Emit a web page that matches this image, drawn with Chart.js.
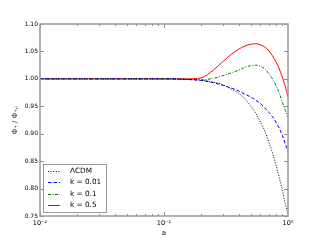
<!DOCTYPE html>
<html>
<head>
<meta charset="utf-8">
<script src="https://cdn.jsdelivr.net/npm/chart.js@4/dist/chart.umd.min.js"></script>
<style>
html,body{margin:0;padding:0;background:#fff;}
#c{display:block;}
</style>
</head>
<body>
<canvas id="c" width="320" height="240"></canvas>
<script>
// ---- data ----
const aValues = [0.01, 0.02, 0.05, 0.1, 0.15, 0.2, 0.25, 0.3, 0.35, 0.4, 0.45, 0.5, 0.55, 0.6, 0.65, 0.7, 0.75, 0.8, 0.85, 0.9, 0.95, 1.0];
const lcdm  = [1.000, 1.000, 1.000, 1.000, 0.999, 0.998, 0.994, 0.989, 0.981, 0.974, 0.963, 0.951, 0.937, 0.921, 0.905, 0.885, 0.865, 0.843, 0.820, 0.797, 0.773, 0.755];
const k001  = [1.000, 1.000, 1.000, 1.000, 0.999, 0.997, 0.993, 0.988, 0.983, 0.978, 0.972, 0.967, 0.961, 0.955, 0.947, 0.939, 0.931, 0.921, 0.910, 0.897, 0.882, 0.867];
const k01   = [1.000, 1.000, 1.000, 1.000, 0.999, 0.998, 1.001, 1.006, 1.011, 1.016, 1.021, 1.024, 1.025, 1.023, 1.018, 1.010, 1.000, 0.988, 0.974, 0.958, 0.943, 0.930];
const k05   = [1.000, 1.000, 1.000, 1.000, 1.000, 1.002, 1.016, 1.032, 1.045, 1.054, 1.060, 1.063, 1.064, 1.062, 1.058, 1.051, 1.042, 1.031, 1.018, 1.003, 0.986, 0.967];
const seriesLabels = ['\u039BCDM', 'k = 0.01', 'k = 0.1', 'k = 0.5'];
const yTicks = [0.75, 0.80, 0.85, 0.90, 0.95, 1.00, 1.05, 1.10];
const xMajorTicks = [0.01, 0.1, 1];
const xTickLabels = ['10\u207B\u00B2', '10\u207B\u00B9', '10\u2070'];
const xTitle = 'a';
const yTitle = '\u03A6\u208A / \u03A6\u208A,\u1D62';

Chart.defaults.font.family = 'DejaVu Sans';
Chart.defaults.color = '#000';

function pts(arr){ return aValues.map((a,i)=>({x:a, y:arr[i]})); }

const styles = [
  {color:'#000000', dash:[1,1.6]},
  {color:'#0000ff', dash:[3.5,2]},
  {color:'#008000', dash:[3,1.5,1,1.5]},
  {color:'#ff0000', dash:[]}
];
const allSeries = [lcdm, k001, k01, k05];

const datasets = allSeries.map((s,i)=>({
  label: seriesLabels[i],
  data: pts(s),
  borderColor: styles[i].color,
  borderDash: styles[i].dash,
  borderWidth: 1,
  pointRadius: 0,
  fill: false,
  cubicInterpolationMode: 'monotone'
}));

const frameAndTicks = {
  id: 'frameAndTicks',
  afterDraw(chart){
    const ctx = chart.ctx, ca = chart.chartArea;
    const xs = chart.scales.x, ys = chart.scales.y;
    ctx.save();
    ctx.strokeStyle = '#8c8c8c';
    ctx.lineWidth = 1;
    for (let d = -2; d < 0; d++) {
      for (let m = 1; m <= 9; m++) {
        const v = m * Math.pow(10, d);
        const px = Math.round(xs.getPixelForValue(v)) + 0.5;
        const len = m === 1 ? 4 : 2;
        ctx.beginPath();
        ctx.moveTo(px, ca.bottom); ctx.lineTo(px, ca.bottom - len);
        ctx.moveTo(px, ca.top); ctx.lineTo(px, ca.top + len);
        ctx.stroke();
      }
    }
    yTicks.forEach(v=>{
      const py = Math.round(ys.getPixelForValue(v)) + 0.5;
      ctx.beginPath();
      ctx.moveTo(ca.left, py); ctx.lineTo(ca.left + 4, py);
      ctx.moveTo(ca.right, py); ctx.lineTo(ca.right - 4, py);
      ctx.stroke();
    });
    ctx.strokeStyle = '#9a9a9a';
    ctx.lineWidth = 1.5;
    ctx.strokeRect(ca.left, ca.top, ca.right - ca.left, ca.bottom - ca.top);

    // y axis title
    ctx.save();
    ctx.translate(ca.left - 25, (ca.top + ca.bottom) / 2);
    ctx.rotate(-Math.PI / 2);
    ctx.font = '7px "DejaVu Sans"';
    ctx.fillStyle = '#000';
    ctx.textAlign = 'center';
    ctx.textBaseline = 'middle';
    ctx.fillText(yTitle, 0, 0);
    ctx.restore();

    // legend inside lower-left
    const bx = ca.left + 3, bw = 63, bh = 48, by = ca.bottom - 4 - bh;
    ctx.fillStyle = '#fff';
    ctx.fillRect(bx, by, bw, bh);
    ctx.strokeStyle = '#9a9a9a';
    ctx.lineWidth = 1;
    ctx.strokeRect(bx + 0.5, by + 0.5, bw, bh);
    ctx.font = '7.3px "DejaVu Sans"';
    ctx.textBaseline = 'middle';
    ctx.textAlign = 'left';
    chart.data.datasets.forEach((ds,i)=>{
      const yy = Math.round(by + 7 + i * 11.4) + 0.5;
      ctx.beginPath();
      ctx.strokeStyle = ds.borderColor;
      ctx.setLineDash(ds.borderDash);
      ctx.lineWidth = 1;
      ctx.moveTo(bx + 5, yy); ctx.lineTo(bx + 17, yy);
      ctx.stroke();
      ctx.setLineDash([]);
      ctx.fillStyle = '#000';
      ctx.fillText(ds.label, bx + 27, yy);
    });
    ctx.restore();
  }
};

new Chart(document.getElementById('c'), {
  type: 'line',
  data: { datasets },
  options: {
    responsive: false,
    animation: false,
    events: [],
    layout: { padding: { top: 24, right: 32, left: 0, bottom: 0 } },
    plugins: { legend: { display: false }, tooltip: { enabled: false } },
    scales: {
      x: {
        type: 'logarithmic',
        min: 0.01, max: 1,
        border: { display: false },
        grid: { display: false, drawTicks: false },
        ticks: {
          autoSkip: false, maxRotation: 0, padding: 3,
          font: { size: 6.5 },
          callback: (v) => {
            const idx = xMajorTicks.findIndex(m => Math.abs(Math.log10(v) - Math.log10(m)) < 1e-6);
            return idx >= 0 ? xTickLabels[idx] : '';
          }
        },
        title: { display: true, text: xTitle, font: { size: 7 }, padding: { top: 0, bottom: 3 } },
        afterFit: s => { s.height = 24; }
      },
      y: {
        min: 0.75, max: 1.10,
        border: { display: false },
        grid: { display: false, drawTicks: false },
        afterBuildTicks: s => { s.ticks = yTicks.map(v => ({ value: v })); },
        ticks: {
          padding: 2,
          font: { size: 6 },
          callback: v => Number(v).toFixed(2)
        },
        title: { display: false },
        afterFit: s => { s.width = 40; }
      }
    }
  },
  plugins: [frameAndTicks]
});
</script>
</body>
</html>
